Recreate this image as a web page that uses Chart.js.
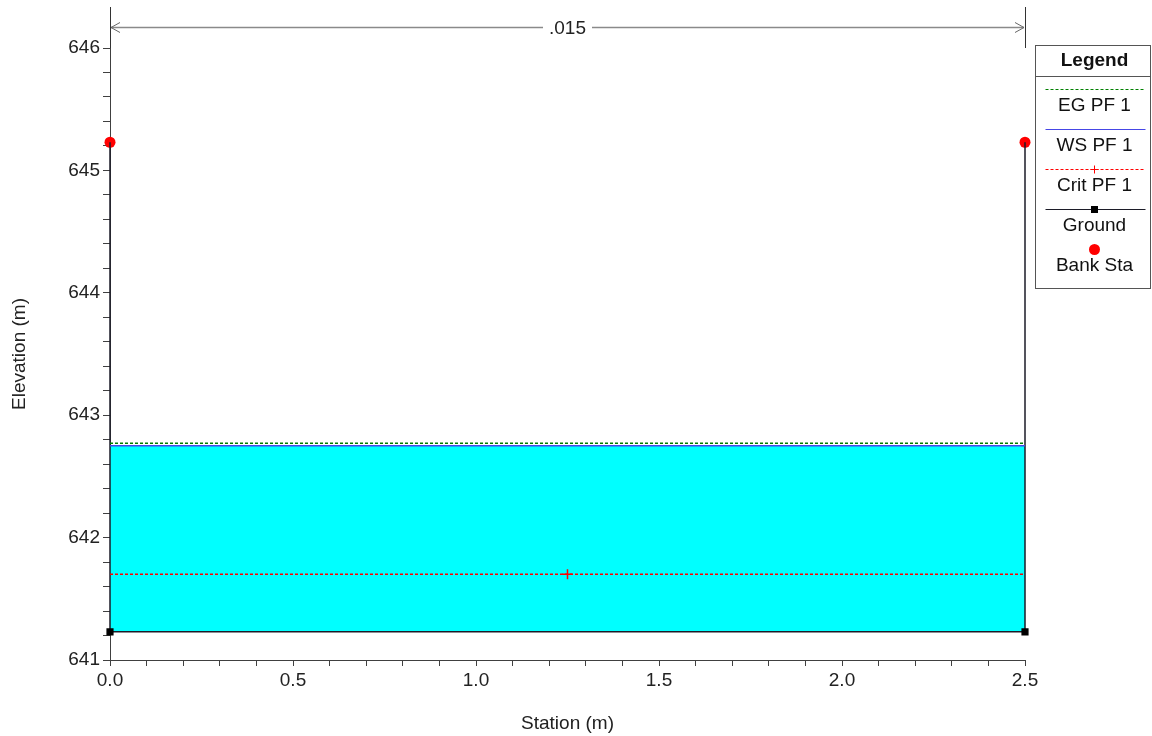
<!DOCTYPE html>
<html>
<head>
<meta charset="utf-8">
<script src="https://cdn.jsdelivr.net/npm/chart.js@4.4.0/dist/chart.umd.min.js"></script>
<style>
  html, body { margin: 0; padding: 0; background: #fff; }
  canvas { display: block; }
</style>
</head>
<body>
<canvas id="xs-chart" width="1152" height="736"></canvas>
<script>
// cross section values (station m, elevation m)
const groundStation = [0, 0, 2.5, 2.5];
const groundElev = [645.23, 641.23, 641.23, 645.23];
const bankStation = [0, 2.5];
const bankElev = [645.23, 645.23];
const egStation = [0, 2.5];
const egElev = [642.77, 642.77];
const wsStation = [0, 2.5];
const wsElev = [642.75, 642.75];
const critStation = [0, 1.25, 2.5];
const critElev = [641.70, 641.70, 641.70];

// manning's n regions
const nStations = [0, 2.5];
const nLabels = ['.015'];

// axis ticks
const xTicks = [0.0, 0.1, 0.2, 0.3, 0.4, 0.5, 0.6, 0.7, 0.8, 0.9, 1.0, 1.1, 1.2,
    1.3, 1.4, 1.5, 1.6, 1.7, 1.8, 1.9, 2.0, 2.1, 2.2, 2.3, 2.4, 2.5];
const xLabelEvery = 0.5;
const yTicks = [641, 641.2, 641.4, 641.6, 641.8, 642, 642.2, 642.4, 642.6, 642.8,
    643, 643.2, 643.4, 643.6, 643.8, 644, 644.2, 644.4, 644.6, 644.8,
    645, 645.2, 645.4, 645.6, 645.8, 646];

const FONT = '"Liberation Sans", Arial, sans-serif';
Chart.defaults.font.family = FONT;
Chart.defaults.color = '#222';

function pts(xs, ys) {
    return xs.map((x, i) => ({ x: x, y: ys[i] }));
}

const nValuePlugin = {
    id: 'nValues',
    afterDraw(chart) {
        const ctx = chart.ctx, area = chart.chartArea, xs = chart.scales.x;
        const y = Math.round(area.top + 20) + 0.5;
        ctx.save();
        ctx.font = '19px ' + FONT;
        for (let i = 0; i < nLabels.length; i++) {
            const x0 = xs.getPixelForValue(nStations[i]);
            const x1 = xs.getPixelForValue(nStations[i + 1]);
            const mid = (x0 + x1) / 2;
            const tw = ctx.measureText(nLabels[i]).width;
            ctx.strokeStyle = '#8a8a8a';
            ctx.lineWidth = 1.5;
            ctx.beginPath();
            ctx.moveTo(x0 + 1, y); ctx.lineTo(mid - tw / 2 - 6, y);
            ctx.moveTo(mid + tw / 2 + 6, y); ctx.lineTo(x1 - 1, y);
            ctx.stroke();
            ctx.lineWidth = 1;
            ctx.strokeStyle = '#666';
            ctx.beginPath();
            ctx.moveTo(x0 + 10, y - 5); ctx.lineTo(x0 + 1, y); ctx.lineTo(x0 + 10, y + 5);
            ctx.moveTo(x1 - 10, y - 5); ctx.lineTo(x1 - 1, y); ctx.lineTo(x1 - 10, y + 5);
            ctx.stroke();
            ctx.fillStyle = '#222';
            ctx.textAlign = 'center';
            ctx.textBaseline = 'middle';
            ctx.fillText(nLabels[i], mid, y + 1);
        }
        ctx.strokeStyle = '#333';
        ctx.lineWidth = 1;
        nStations.forEach(s => {
            const px = Math.round(xs.getPixelForValue(s)) + 0.5;
            ctx.beginPath();
            ctx.moveTo(px, area.top);
            ctx.lineTo(px, area.top + 41);
            ctx.stroke();
        });
        ctx.restore();
    }
};

const yTitlePlugin = {
    id: 'yTitle',
    afterDraw(chart) {
        const ctx = chart.ctx, ys = chart.scales.y;
        const cy = (ys.getPixelForValue(yTicks[0]) + ys.getPixelForValue(yTicks[yTicks.length - 1])) / 2;
        ctx.save();
        ctx.translate(20, cy);
        ctx.rotate(-Math.PI / 2);
        ctx.font = '19px ' + FONT;
        ctx.fillStyle = '#222';
        ctx.textAlign = 'center';
        ctx.textBaseline = 'middle';
        ctx.fillText('Elevation (m)', 0, 0);
        ctx.restore();
    }
};

const legendPlugin = {
    id: 'legendBox',
    afterDraw(chart) {
        const ctx = chart.ctx;
        const left = 1035.5, top = 45.5, w = 115, h = 243;
        const cx = left + 59;
        ctx.save();
        ctx.fillStyle = '#fff';
        ctx.fillRect(left, top, w, h);
        ctx.strokeStyle = '#555';
        ctx.lineWidth = 1;
        ctx.strokeRect(left, top, w, h);
        ctx.beginPath();
        ctx.moveTo(left, top + 31); ctx.lineTo(left + w, top + 31);
        ctx.stroke();
        ctx.fillStyle = '#111';
        ctx.textAlign = 'center';
        ctx.textBaseline = 'middle';
        ctx.font = 'bold 19px ' + FONT;
        ctx.fillText('Legend', cx, top + 15);
        ctx.font = '19px ' + FONT;
        chart.data.datasets.forEach((ds, i) => {
            const ly = Math.round(top + 43 + 40 * i) + 0.5;
            const ty = top + 60 + 40 * i;
            if (ds.showLine !== false) {
                ctx.strokeStyle = ds.borderColor;
                ctx.lineWidth = 1;
                ctx.setLineDash(ds.borderDash || []);
                ctx.beginPath();
                ctx.moveTo(left + 10, ly); ctx.lineTo(left + 110, ly);
                ctx.stroke();
                ctx.setLineDash([]);
            }
            if (ds.legendMark === 'cross') {
                ctx.strokeStyle = ds.borderColor;
                ctx.beginPath();
                ctx.moveTo(cx - 4, ly); ctx.lineTo(cx + 4, ly);
                ctx.moveTo(cx, ly - 4); ctx.lineTo(cx, ly + 4);
                ctx.stroke();
            } else if (ds.legendMark === 'rect') {
                ctx.fillStyle = '#000';
                ctx.fillRect(cx - 3.5, ly - 3.5, 7, 7);
            } else if (ds.legendMark === 'circle') {
                ctx.fillStyle = ds.pointBackgroundColor;
                ctx.beginPath();
                ctx.arc(cx, ly, 5.5, 0, Math.PI * 2);
                ctx.fill();
            }
            ctx.fillStyle = '#111';
            ctx.fillText(ds.label, cx, ty);
        });
        ctx.restore();
    }
};

new Chart(document.getElementById('xs-chart'), {
    type: 'scatter',
    data: {
        datasets: [{
            label: 'EG PF 1',
            data: pts(egStation, egElev),
            showLine: true,
            borderColor: '#008000',
            borderWidth: 1.5,
            borderDash: [3, 2],
            pointRadius: 0
        }, {
            label: 'WS PF 1',
            data: pts(wsStation, wsElev),
            showLine: true,
            borderColor: '#4646e6',
            borderWidth: 1.5,
            pointRadius: 0,
            backgroundColor: '#00ffff',
            fill: { value: groundElev[1] }
        }, {
            label: 'Crit PF 1',
            data: pts(critStation, critElev),
            showLine: true,
            borderColor: '#ff0000',
            borderWidth: 1.5,
            borderDash: [3, 2],
            pointStyle: 'cross',
            pointRadius: c => (c.dataIndex === 1 ? 5 : 0),
            pointBorderColor: '#ff0000',
            pointBorderWidth: 1.5,
            legendMark: 'cross'
        }, {
            label: 'Ground',
            data: pts(groundStation, groundElev),
            showLine: true,
            borderColor: '#1c1c28',
            borderWidth: 1.5,
            pointStyle: 'rect',
            pointRadius: c => (c.dataIndex === 1 || c.dataIndex === 2 ? 4 : 0),
            pointBackgroundColor: '#000',
            pointBorderColor: '#000',
            clip: false,
            legendMark: 'rect'
        }, {
            label: 'Bank Sta',
            data: pts(bankStation, bankElev),
            showLine: false,
            pointStyle: 'circle',
            pointRadius: 5.5,
            pointBackgroundColor: '#ff0000',
            pointBorderColor: '#ff0000',
            pointBorderWidth: 0,
            clip: false,
            legendMark: 'circle'
        }]
    },
    options: {
        responsive: false,
        animation: false,
        layout: { autoPadding: false, padding: { top: 7, right: 127, left: 0, bottom: 0 } },
        plugins: {
            legend: { display: false },
            tooltip: { enabled: false },
            filler: { drawTime: 'beforeDatasetsDraw' }
        },
        scales: {
            x: {
                type: 'linear',
                min: 0,
                max: 2.5,
                afterFit: s => { s.height = 76; s.paddingLeft = 0; s.paddingRight = 0; },
                afterBuildTicks: s => { s.ticks = xTicks.map(v => ({ value: v })); },
                grid: { drawOnChartArea: false, tickLength: 6, tickColor: '#404040' },
                border: { color: '#404040', width: 1 },
                ticks: {
                    autoSkip: false,
                    maxRotation: 0,
                    padding: 3,
                    color: '#222',
                    font: { size: 19 },
                    callback: v => {
                        const r = v / xLabelEvery;
                        return Math.abs(r - Math.round(r)) < 1e-6 ? v.toFixed(1) : '';
                    }
                },
                title: {
                    display: true,
                    text: 'Station (m)',
                    color: '#222',
                    font: { size: 19 },
                    padding: { top: 0, bottom: 1 }
                }
            },
            y: {
                min: 641,
                max: 646.335,
                afterFit: s => { s.width = 110; s.paddingTop = 0; s.paddingBottom = 0; },
                afterBuildTicks: s => { s.ticks = yTicks.map(v => ({ value: v })); },
                grid: { drawOnChartArea: false, tickLength: 7, tickColor: '#404040' },
                border: { color: '#404040', width: 1 },
                ticks: {
                    autoSkip: false,
                    padding: 3,
                    color: '#222',
                    font: { size: 19 },
                    callback: v => (Math.abs(v - Math.round(v)) < 1e-6 ? String(Math.round(v)) : '')
                }
            }
        }
    },
    plugins: [nValuePlugin, yTitlePlugin, legendPlugin]
});
</script>
</body>
</html>
